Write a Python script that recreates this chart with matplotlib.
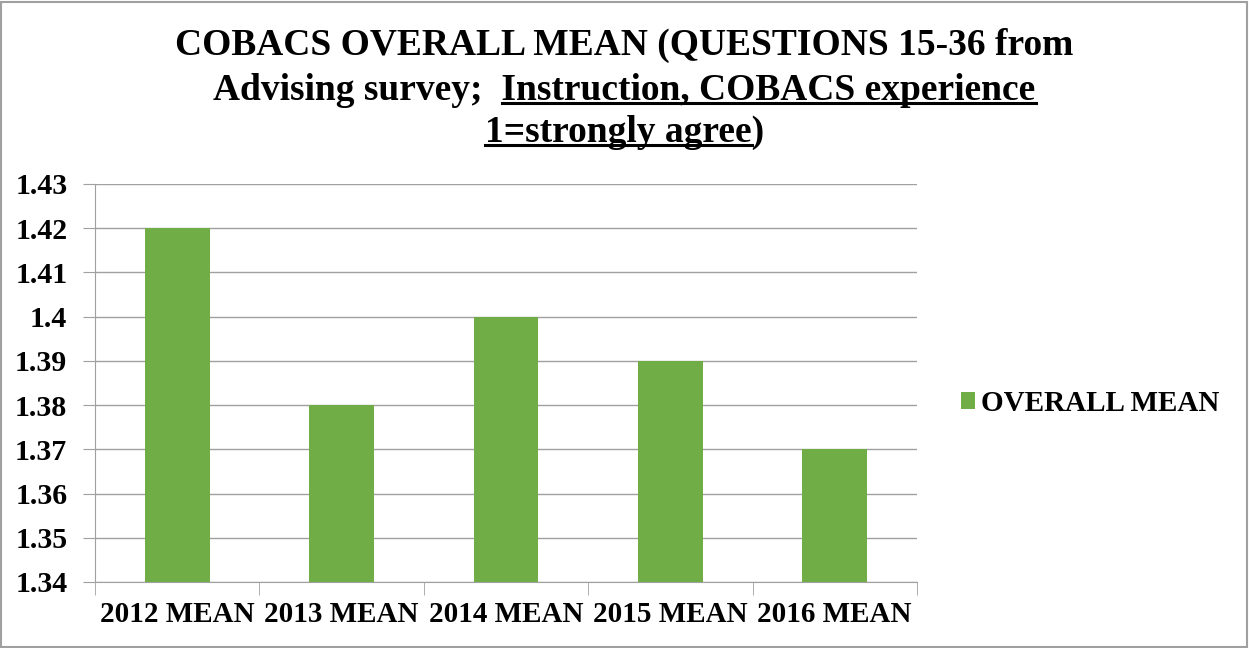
import matplotlib.pyplot as plt
from matplotlib.patches import Rectangle

# data
categories = ['2012 MEAN', '2013 MEAN', '2014 MEAN', '2015 MEAN', '2016 MEAN']
overall_mean = [1.42, 1.38, 1.40, 1.39, 1.37]
yticks = [1.34, 1.35, 1.36, 1.37, 1.38, 1.39, 1.40, 1.41, 1.42, 1.43]
ytick_labels = ['1.34', '1.35', '1.36', '1.37', '1.38', '1.39', '1.4', '1.41', '1.42', '1.43']

plt.rcParams['font.family'] = 'Liberation Serif'
plt.rcParams['font.weight'] = 'bold'

fig = plt.figure(figsize=(12.49, 6.48), dpi=100)
ax = fig.add_axes([0.0761, 0.1019, 0.658, 0.6142])

x = range(len(categories))
ax.bar(x, overall_mean, width=0.395, color='#70AD47', label='OVERALL MEAN', zorder=3)
ax.set_xlim(-0.5, len(categories) - 0.5)
ax.set_ylim(1.34, 1.43)
ax.set_yticks(yticks)
ax.set_yticklabels(ytick_labels, fontsize=21.5, fontweight='bold')
ax.grid(axis='y', color='#A0A0A0', lw=1, zorder=0)
ax.tick_params(axis='y', length=9, color='#A0A0A0', pad=11)

# category labels centred, tick marks on the boundaries
ax.set_xticks(list(x))
ax.set_xticklabels(categories, fontsize=21, fontweight='bold')
ax.tick_params(axis='x', length=0, pad=14)
ax.set_xticks([i - 0.5 for i in range(len(categories) + 1)], minor=True)
ax.tick_params(axis='x', which='minor', length=9, color='#A0A0A0')

for s in ['top', 'right']:
    ax.spines[s].set_visible(False)
for s in ['left', 'bottom']:
    ax.spines[s].set_color('#A0A0A0')

leg = fig.legend(loc='center left', bbox_to_anchor=(0.748, 0.378), frameon=False,
                 prop={'size': 21, 'weight': 'bold'}, handlelength=0.5, handleheight=0.5,
                 handletextpad=0.2)

# title with partially underlined lines
fs = 27
line1 = 'COBACS OVERALL MEAN (QUESTIONS 15-36 from'
pre2, und2 = 'Advising survey;  ', 'Instruction, COBACS experience'
und3, post3 = '1=strongly agree', ')'
ys = [1 - 45 / 648, 1 - 90 / 648, 1 - 132 / 648]
cx = 0.5

fig.text(cx, ys[0], line1, ha='center', va='center', fontsize=fs, fontweight='bold')
t2 = fig.text(cx, ys[1], pre2 + und2, ha='center', va='center', fontsize=fs, fontweight='bold')
t3 = fig.text(cx, ys[2], und3 + post3, ha='center', va='center', fontsize=fs, fontweight='bold')

fig.canvas.draw()
r = fig.canvas.get_renderer()


def width_of(s):
    tmp = fig.text(0, 0, s, fontsize=fs, fontweight='bold')
    w = tmp.get_window_extent(r).width
    tmp.remove()
    return w


W, H = fig.bbox.width, fig.bbox.height
for t, pre, und in [(t2, pre2, und2), (t3, '', und3)]:
    bb = t.get_window_extent(r)
    x0 = bb.x0 + (width_of(pre) if pre else 0)
    x1 = x0 + width_of(und)
    yline = bb.y0 + 5
    fig.add_artist(plt.Line2D([x0 / W, x1 / W], [yline / H, yline / H], color='black', lw=2.2))

fig.add_artist(Rectangle((0.001, 0.002), 0.997, 0.995, transform=fig.transFigure,
                         fill=False, edgecolor='#A0A0A0', lw=1.5))

fig.savefig('out.png', dpi=100)
